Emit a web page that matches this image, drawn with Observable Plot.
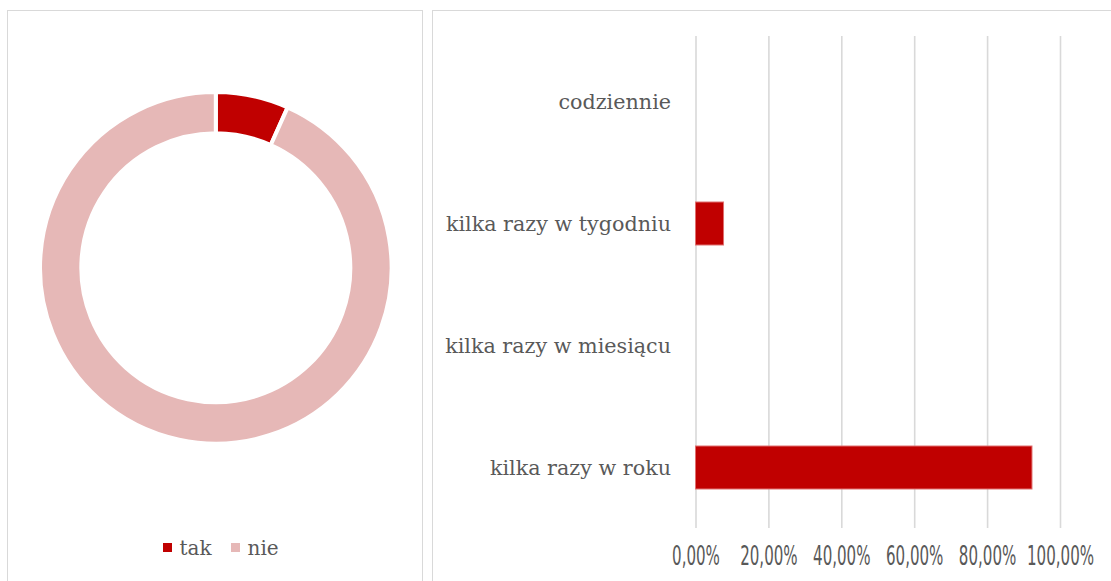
<!DOCTYPE html>
<html><head><meta charset="utf-8">
<script src="https://cdn.jsdelivr.net/npm/d3@7"></script>
<script src="https://cdn.jsdelivr.net/npm/@observablehq/plot@0.6"></script>
<style>
html,body{margin:0;padding:0;background:#fff;}
body{width:1111px;height:581px;overflow:hidden;position:relative;font-family:"DejaVu Serif",serif;}
.panel{position:absolute;border:1.5px solid #d9d9d9;box-sizing:border-box;}
.abs{position:absolute;}
.lg-swatch svg{margin-right:8px !important;}
.lg-swatch{margin-right:19px !important;}
</style></head><body>
<div class="panel" style="left:7px;top:10px;width:416px;height:620px"></div>
<div class="panel" style="left:431.5px;top:10px;width:720px;height:620px"></div>
<div id="donut" class="abs" style="left:0;top:0;width:431px;height:581px"></div>
<div id="legend" class="abs" style="left:162.5px;top:531px;"></div>
<div id="bars" class="abs" style="left:432px;top:0;width:679px;height:581px"></div>
<script>
// ---- data ----
const donutLabels = ["tak", "nie"];
const donutValues = [6.7, 93.3];
const donutColors = ["#c00000", "#e6b8b7"];

const categories = ["codziennie", "kilka razy w tygodniu", "kilka razy w miesiącu", "kilka razy w roku"];
const shares = [0, 0.0769, 0, 0.9231];
const xTicks = [0, 0.2, 0.4, 0.6, 0.8, 1];

const textColor = "#595959";
const barColor = "#c00000";

// ---- donut ----
const donutData = donutLabels.map((label, i) => ({label, value: donutValues[i]}));
const colorScale = Plot.scale({color: {type: "ordinal", domain: donutLabels, range: donutColors}});

function donutMark(index, scales, values, dims) {
  const {width, height, marginLeft, marginRight, marginTop, marginBottom} = dims;
  const fw = width - marginLeft - marginRight, fh = height - marginTop - marginBottom;
  const cx = marginLeft + fw / 2, cy = marginTop + fh / 2;
  const R = Math.min(fw, fh) / 2;
  const arcs = d3.pie().sort(null).value(d => d.value)(donutData);
  const arc = d3.arc().innerRadius(R * 0.765).outerRadius(R);
  const g = d3.create("svg:g").attr("transform", `translate(${cx},${cy})`);
  g.selectAll("path").data(arcs).join("path")
    .attr("d", arc)
    .attr("fill", d => colorScale.apply(d.data.label))
    .attr("stroke", "#fff")
    .attr("stroke-width", 4)
    .attr("stroke-linejoin", "miter");
  return g.node();
}

const donut = Plot.plot({
  width: 431, height: 581,
  marginLeft: 40, marginRight: 39.4, marginTop: 91.8, marginBottom: 137.2,
  style: {background: "transparent"},
  marks: [donutMark]
});
document.getElementById("donut").append(donut);

const legend = Plot.legend({
  color: {type: "ordinal", domain: donutLabels, range: donutColors},
  className: "lg",
  swatchSize: 9,
  style: {fontFamily: "DejaVu Serif", fontSize: "20px", color: textColor, margin: 0}
});
document.getElementById("legend").append(legend);

// ---- bars ----
const barData = categories.map((cat, i) => ({cat, value: shares[i]}));
const fmt = d => (d * 100).toFixed(2).replace(".", ",") + "%";

const bars = Plot.plot({
  width: 679, height: 581,
  marginLeft: 263.5, marginRight: 51, marginTop: 36, marginBottom: 53,
  style: {background: "transparent", color: textColor},
  x: {domain: [0, 1], label: null},
  y: {domain: categories, label: null, paddingInner: 0.65, paddingOuter: 0.325, insetTop: 4},
  marks: [
    Plot.gridX(xTicks, {stroke: "#d9d9d9", strokeOpacity: 1, strokeWidth: 1.6}),
    Plot.barX(barData, {filter: d => d.value > 0, x: "value", y: "cat", fill: barColor, stroke: "#e07070", strokeWidth: 1}),
    Plot.axisY({tickSize: 0, tickPadding: 25, fontSize: 20.7, fontFamily: "DejaVu Serif", fill: textColor, label: null}),
    Plot.axisX(xTicks, {tickSize: 0, tickPadding: 18, tickFormat: fmt, fontSize: 26, fontFamily: "DejaVu Sans", fill: textColor, label: null})
  ]
});
d3.select(bars).selectAll("g[aria-label='x-axis tick label'] text").each(function() {
  const t = this.getAttribute("transform");
  if (t) this.setAttribute("transform", t + " scale(0.58,1)");
  else {
    const x = +this.getAttribute("x") || 0, y = +this.getAttribute("y") || 0;
    this.removeAttribute("x"); this.removeAttribute("y");
    this.setAttribute("transform", `translate(${x},${y}) scale(0.58,1)`);
  }
});
document.getElementById("bars").append(bars);
</script>
</body></html>
